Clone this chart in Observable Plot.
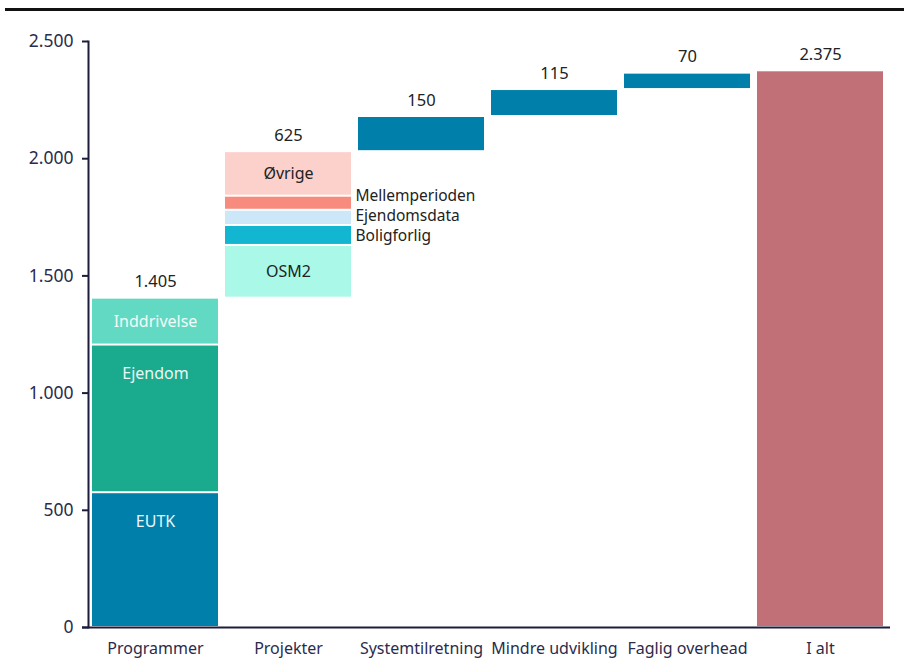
<!DOCTYPE html>
<html>
<head>
<meta charset="utf-8">
<script src="https://cdn.jsdelivr.net/npm/d3@7"></script>
<script src="https://cdn.jsdelivr.net/npm/@observablehq/plot@0.6"></script>
<style>
  html, body { margin: 0; padding: 0; background: #fff; }
  #rule { margin-left: 5px; height: 8px; border-bottom: 3px solid #111; }
  svg { display: block; font-family: "Noto Sans", sans-serif; }
</style>
</head>
<body>
<div id="rule"></div>
<div id="chart"></div>
<script>
// ---- data ----
const categories = ["Programmer", "Projekter", "Systemtilretning", "Mindre udvikling", "Faglig overhead", "I alt"];
const programmerParts = ["EUTK", "Ejendom", "Inddrivelse"];
const programmerValues = [575, 630, 200];
const projektParts = ["OSM2", "Boligforlig", "Ejendomsdata", "Mellemperioden", "Øvrige"];
const projektValues = [225, 85, 65, 60, 190];
const stepCategories = ["Systemtilretning", "Mindre udvikling", "Faglig overhead"];
const stepValues = [150, 115, 70];
const totalValue = 2375;
const yTicks = [0, 500, 1000, 1500, 2000, 2500];

// ---- styles ----
const programmerColors = ["#007faa", "#1aab8e", "#62d9c2"];
const projektColors = ["#a9f8e8", "#12b6d1", "#cce8f8", "#f78b7e", "#fcd0cb"];
const programmerText = ["#eaf6f8", "#eaf6f4", "#f2fbf9"];
const projektText = ["#222", "#222", "#222", "#222", "#222"];
const stepColor = "#007faa";
const totalColor = "#c07076";

const fmt = d3.formatLocale({decimal: ",", thousands: ".", grouping: [3], currency: ["", " kr."]}).format(",d");

// ---- build rows ----
const segs = [];
let acc = 0;
programmerParts.forEach((p, i) => {
  segs.push({cat: "Programmer", part: p, y1: acc, y2: acc + programmerValues[i], v: programmerValues[i], fill: programmerColors[i], tc: programmerText[i]});
  acc += programmerValues[i];
});
const programmerTotal = acc;
const projStart = acc;
projektParts.forEach((p, i) => {
  segs.push({cat: "Projekter", part: p, y1: acc, y2: acc + projektValues[i], v: projektValues[i], fill: projektColors[i], tc: projektText[i]});
  acc += projektValues[i];
});
const projektTotal = acc - projStart;
const tops = [{cat: "Programmer", y: programmerTotal, label: fmt(programmerTotal)},
              {cat: "Projekter", y: acc, label: fmt(projektTotal)}];
stepCategories.forEach((c, i) => {
  segs.push({cat: c, part: c, y1: acc, y2: acc + stepValues[i], v: stepValues[i], fill: stepColor, tc: "none"});
  acc += stepValues[i];
  tops.push({cat: c, y: acc, label: fmt(stepValues[i])});
});
segs.push({cat: "I alt", part: "I alt", y1: 0, y2: totalValue, v: totalValue, fill: totalColor, tc: "none"});
tops.push({cat: "I alt", y: totalValue, label: fmt(totalValue)});

const labelled = segs.filter(d => d.cat === "Programmer" || d.cat === "Projekter");
const inside = labelled.filter(d => d.v >= 100).map(d => ({...d, ly: d.y2 - Math.min(125, d.v / 2)}));
// small segments: labels to the right, stacked downward from the top one with even spacing
const outsideRaw = labelled.filter(d => d.v < 100).sort((a, b) => b.y2 - a.y2);
const outside = [];
outsideRaw.forEach((d, i) => {
  const c = (d.y1 + d.y2) / 2;
  const ly = i === 0 ? c + 30 : outside[i - 1].ly - 85;
  outside.push({...d, ly});
});

const W = 904, H = 659;
const chart = Plot.plot({
  width: W, height: H,
  marginLeft: 88, marginRight: 16, marginTop: 30, marginBottom: 43,
  style: {fontFamily: "Noto Sans, sans-serif", fontSize: "16px", color: "#2b2b4d"},
  x: {domain: categories, paddingInner: 0.05, paddingOuter: 0.025, label: null},
  y: {domain: [0, 2500], label: null},
  marks: [
    Plot.barY(segs, {x: "cat", y1: "y1", y2: "y2", fill: "fill", insetTop: 1, insetBottom: 1}),
    Plot.text(inside, {x: "cat", y: "ly", text: "part", fill: "tc", fontSize: 16}),
    Plot.text(outside, {x: "cat", y: "ly", text: "part", fill: "#222", textAnchor: "start", dx: 67, fontSize: 15.5}),
    Plot.text(tops, {x: "cat", y: "y", text: "label", dy: -16, fill: "#222", fontSize: 16.5}),
    Plot.axisY({ticks: yTicks, tickFormat: fmt, tickSize: 6, tickPadding: 9, stroke: "#1c1c3c", strokeWidth: 2, fill: "#2b2b4d", fontSize: 17.5, label: null}),
    Plot.axisX({tickSize: 0, tickPadding: 15, fill: "#2b2b4d", fontSize: 16, label: null}),
    Plot.frame({anchor: "left", stroke: "#1c1c3c", strokeWidth: 2}),
    Plot.ruleY([0], {stroke: "#1c1c3c", strokeWidth: 2, insetLeft: -6, insetRight: -2})
  ]
});
document.getElementById("chart").appendChild(chart);
</script>
</body>
</html>
